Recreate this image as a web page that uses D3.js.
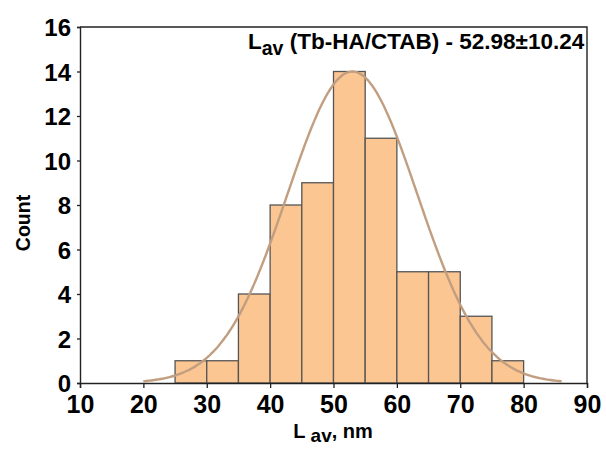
<!DOCTYPE html>
<html>
<head>
<meta charset="utf-8">
<script src="https://cdn.jsdelivr.net/npm/d3@7"></script>
<style>
  html, body { margin: 0; padding: 0; background: #fff; }
  svg text { font-family: "Liberation Sans", Arial, sans-serif; font-weight: bold; }
</style>
</head>
<body>
<svg id="chart" width="606" height="454"></svg>
<script>
// Histogram of particle sizes (bin edges and counts)
const binStarts = [25, 30, 35, 40, 45, 50, 55, 60, 65, 70, 75];
const binWidth = 5;
const counts = [1, 1, 4, 8, 9, 14, 11, 5, 5, 3, 1];

// Gaussian fit parameters
const fitMean = 52.98;
const fitSd = 10.24;
const fitAmplitude = 14;
const fitRange = [20, 86];

// Axis ticks
const xTicks = [10, 20, 30, 40, 50, 60, 70, 80, 90];
const yTicks = [0, 2, 4, 6, 8, 10, 12, 14, 16];

const svg = d3.select("#chart");
const m = { left: 80, right: 19, top: 27, bottom: 71 };
const W = 606, H = 454;

const x = d3.scaleLinear().domain([10, 90]).range([m.left, W - m.right]);
const y = d3.scaleLinear().domain([0, 16]).range([H - m.bottom, m.top]);

// Bars
svg.append("g").selectAll("rect")
  .data(binStarts)
  .join("rect")
  .attr("x", d => x(d))
  .attr("y", (d, i) => y(counts[i]))
  .attr("width", d => x(d + binWidth) - x(d))
  .attr("height", (d, i) => y(0) - y(counts[i]))
  .attr("fill", "#fcc692")
  .attr("stroke", "#555")
  .attr("stroke-width", 1.3);

// Fitted normal curve
const fitX = d3.range(fitRange[0], fitRange[1] + 0.01, 0.25);
const gauss = v => fitAmplitude * Math.exp(-((v - fitMean) ** 2) / (2 * fitSd * fitSd));
svg.append("path")
  .datum(fitX)
  .attr("fill", "none")
  .attr("stroke", "#c29e80")
  .attr("stroke-width", 2.4)
  .attr("d", d3.line().x(d => x(d)).y(d => y(gauss(d))).curve(d3.curveBasis));

// Frame (top and right edges)
svg.append("path")
  .attr("d", `M${x(10)},${y(16)}H${x(90)}V${y(0)}`)
  .attr("fill", "none")
  .attr("stroke", "#222")
  .attr("stroke-width", 1.4);

// Axes
const xAxis = svg.append("g")
  .attr("transform", `translate(0,${y(0)})`)
  .call(d3.axisBottom(x).tickValues(xTicks).tickSize(5).tickPadding(7).tickFormat(d3.format("d")));
xAxis.selectAll("text").attr("font-size", 25).attr("fill", "#000");

const yAxis = svg.append("g")
  .attr("transform", `translate(${x(10)},0)`)
  .call(d3.axisLeft(y).tickValues(yTicks).tickSize(3).tickPadding(6).tickFormat(d3.format("d")));
yAxis.selectAll("text").attr("font-size", 24).attr("fill", "#000").attr("dy", "0.36em");

[xAxis, yAxis].forEach(a => {
  a.select(".domain").attr("stroke", "#222").attr("stroke-width", 1.4);
  a.selectAll(".tick line").attr("stroke", "#222").attr("stroke-width", 1.3);
});

// Axis titles
const xt = svg.append("text")
  .attr("x", 333).attr("y", 438)
  .attr("text-anchor", "middle")
  .attr("font-size", 20);
xt.append("tspan").text("L ");
xt.append("tspan").attr("font-size", 19).attr("dy", 4).text("av");
xt.append("tspan").attr("dy", -4).text(", nm");

svg.append("text")
  .attr("transform", "translate(30,223) rotate(-90)")
  .attr("text-anchor", "middle")
  .attr("font-size", 19.5)
  .text("Count");

// Annotation with mean ± sd
const ann = svg.append("text")
  .attr("x", 248).attr("y", 49)
  .attr("font-size", 22.5);
ann.append("tspan").text("L");
ann.append("tspan").attr("font-size", 19.5).attr("dy", 6).text("av");
ann.append("tspan").attr("dy", -6).text(` (Tb-HA/CTAB) - ${fitMean}±${fitSd}`);
</script>
</body>
</html>
